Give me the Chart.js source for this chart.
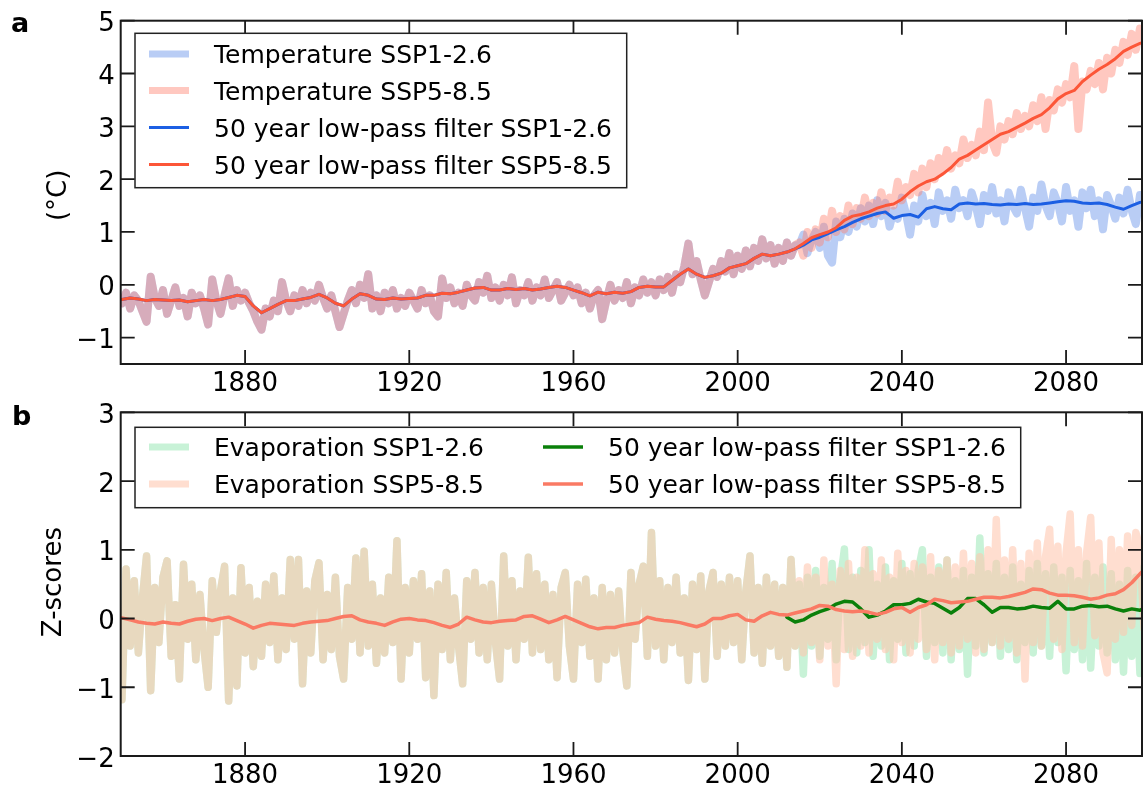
<!DOCTYPE html>
<html>
<head>
<meta charset="utf-8">
<script src="https://cdn.jsdelivr.net/npm/chart.js@4.4.1/dist/chart.umd.min.js"></script>
<style>
  html, body { margin: 0; padding: 0; background: #fff; }
  #wrap { position: relative; width: 1143px; height: 785px; overflow: hidden; }
  .panel { position: absolute; left: 0; width: 1143px; }
  #panelA { top: 0; height: 395px; }
  #panelB { top: 395px; height: 390px; }
</style>
</head>
<body>
<div id="wrap">
  <div class="panel" id="panelA"><canvas id="tempChart"></canvas></div>
  <div class="panel" id="panelB"><canvas id="evapChart"></canvas></div>
</div>
<script>
const FONT = "'DejaVu Sans', sans-serif";

// Panel a: temperature (°C), annual values. History 1850-2014 is shared by both scenarios.
const tempHist = [
  -0.35, -0.15, -0.45, -0.20, -0.30, -0.50, -0.70, 0.15, -0.25, -0.40,
  -0.10, -0.55, -0.30, -0.05, -0.40, -0.25, -0.60, -0.15, -0.35, -0.20,
  -0.45, -0.75, 0.10, -0.30, -0.55, -0.20, 0.12, -0.40, -0.10, -0.30,
  -0.15, -0.35, -0.50, -0.70, -0.85, -0.45, -0.60, -0.30, -0.50, 0.05,
  -0.30, -0.50, -0.20, -0.40, -0.10, -0.35, -0.15, -0.30, 0.00, -0.25,
  -0.45, -0.20, -0.50, -0.80, -0.55, -0.30, -0.10, -0.35, 0.00, -0.25,
  0.20, -0.45, -0.20, -0.50, -0.15, -0.35, -0.10, -0.45, -0.25, -0.40,
  -0.15, -0.30, -0.45, -0.10, -0.35, -0.20, -0.50, -0.60, 0.12, -0.25,
  -0.05, -0.35, -0.15, -0.40, 0.00, -0.20, -0.30, 0.05, -0.15, 0.17,
  -0.25, -0.05, -0.30, 0.00, -0.20, 0.14, -0.35, -0.10, -0.20, 0.05,
  -0.30, -0.05, -0.20, 0.10, -0.25, -0.10, 0.05, -0.30, -0.15, 0.00,
  -0.20, -0.05, -0.35, -0.15, -0.45, -0.20, -0.10, -0.65, -0.30, 0.00,
  -0.30, -0.10, -0.25, 0.05, -0.35, -0.05, -0.20, 0.10, -0.15, 0.05,
  -0.20, 0.10, -0.10, 0.15, -0.15, 0.20, 0.05, 0.35, 0.78, 0.20,
  0.45, 0.10, -0.20, 0.05, 0.30, 0.15, 0.45, 0.25, 0.60, 0.20,
  0.55, 0.30, 0.65, 0.35, 0.70, 0.45, 0.86, 0.50, 0.75, 0.40,
  0.70, 0.45, 0.80, 0.55, 0.75
];
// 2015-2100
const tempSsp126 = [
  0.75, 0.95, 0.60, 0.85, 1.00, 0.70, 1.10, 0.55, 0.42, 1.20,
  0.90, 1.25, 1.00, 1.35, 1.10, 1.45, 1.20, 1.50, 1.15, 1.60,
  1.30, 1.55, 1.10, 1.40, 1.25, 1.65, 1.35, 0.95, 1.50, 1.20,
  1.70, 1.30, 1.55, 1.15, 1.75, 1.40, 1.60, 1.25, 1.80, 1.45,
  1.60, 1.30, 1.75, 1.50, 1.15, 1.70, 1.40, 1.85, 1.35, 1.60,
  1.20, 1.75, 1.50, 1.35, 1.80, 1.45, 1.10, 1.65, 1.40, 1.90,
  1.50, 1.30, 1.75, 1.55, 1.20, 1.85, 1.40, 1.60, 1.10, 1.75,
  1.45, 1.80, 1.30, 1.60, 1.05, 1.70, 1.50, 1.25, 1.65, 1.35,
  1.80, 1.40, 1.15, 1.70, 1.50, 1.90
];
const tempSsp585 = [
  0.80, 0.55, 1.00, 0.70, 1.05, 0.80, 1.25, 0.90, 1.40, 1.00,
  1.30, 1.05, 1.50, 1.15, 1.45, 1.25, 1.65, 1.30, 1.55, 1.35,
  1.75, 1.40, 1.65, 1.50, 1.95, 1.60, 1.85, 1.70, 2.10, 1.75,
  2.20, 1.85, 2.30, 2.00, 2.40, 2.15, 2.55, 2.20, 2.45, 2.30,
  2.75, 2.40, 2.65, 2.45, 2.90, 2.55, 3.45, 2.70, 2.50, 3.00,
  2.75, 3.10, 2.85, 3.25, 2.95, 3.20, 3.00, 3.40, 3.10, 3.55,
  2.95, 3.50, 3.30, 3.70, 3.45, 3.80, 3.55, 4.14, 2.95, 3.85,
  3.70, 4.05, 3.80, 4.20, 3.70, 4.30, 4.00, 4.45, 4.20, 4.60,
  4.35, 4.75, 4.45, 4.85, 4.60, 4.90
];
// 50 year low-pass filter, every 2 years: 1850-2014, then 2016-2100
const tempFilterHist = [
  -0.28, -0.25, -0.27, -0.30, -0.28, -0.29, -0.30, -0.29, -0.32, -0.30,
  -0.28, -0.30, -0.28, -0.24, -0.20, -0.22, -0.40, -0.53, -0.45, -0.37,
  -0.30, -0.30, -0.27, -0.24, -0.18, -0.25, -0.35, -0.40, -0.27, -0.17,
  -0.20, -0.27, -0.28, -0.25, -0.27, -0.26, -0.25, -0.20, -0.20, -0.16,
  -0.17, -0.14, -0.10, -0.06, -0.05, -0.10, -0.10, -0.07, -0.09, -0.07,
  -0.10, -0.08, -0.05, -0.03, -0.05, -0.10, -0.15, -0.21, -0.14, -0.17,
  -0.14, -0.16, -0.13, -0.05, -0.03, -0.04, -0.04, 0.08, 0.20, 0.30,
  0.20, 0.14, 0.17, 0.22, 0.32, 0.36, 0.40, 0.50, 0.58, 0.55,
  0.58, 0.62, 0.68
];
const tempFilterSsp126 = [
  0.75, 0.85, 0.90, 0.97, 1.04, 1.10, 1.18, 1.25, 1.30, 1.35,
  1.38, 1.26, 1.31, 1.33, 1.28, 1.44, 1.48, 1.44, 1.42, 1.53,
  1.55, 1.53, 1.54, 1.52, 1.51, 1.53, 1.52, 1.54, 1.52, 1.53,
  1.55, 1.57, 1.59, 1.58, 1.55, 1.54, 1.55, 1.52, 1.47, 1.43,
  1.50, 1.56, 1.58
];
const tempFilterSsp585 = [
  0.78, 0.89, 0.95, 1.00, 1.08, 1.22, 1.30, 1.33, 1.38, 1.45,
  1.50, 1.53, 1.62, 1.76, 1.87, 1.95, 2.00, 2.10, 2.22, 2.38,
  2.45, 2.55, 2.65, 2.75, 2.85, 2.90, 2.98, 3.06, 3.15, 3.22,
  3.35, 3.52, 3.62, 3.68, 3.85, 3.97, 4.08, 4.17, 4.28, 4.42,
  4.50, 4.57, 4.62
];
const tempTicks = [-1, 0, 1, 2, 3, 4, 5];

// Panel b: evaporation z-scores, annual values
const evapHist = [
  -1.18, 0.72, -0.40, 0.55, -0.50, 0.30, 0.91, -1.05, 0.45, -0.35,
  0.60, 0.84, -0.55, 0.20, -0.88, 0.79, -0.30, 0.50, -0.60, 0.35,
  -0.45, -1.00, 0.55, -0.20, 0.40, 0.76, -1.20, 0.30, -0.98, 0.74,
  -0.50, 0.45, -0.70, 0.25, -0.55, 0.50, -0.35, 0.62, -0.60, 0.30,
  -0.45, 0.86, -0.30, 0.86, -0.95, 0.40, -0.50, 0.55, 0.81, -0.60,
  0.35, -0.45, 0.60, -0.55, -0.88, 0.45, -0.30, 0.88, -0.50, 0.98,
  -0.40, 0.50, -0.65, 0.30, -0.50, 0.60, -0.35, 1.13, -0.88, 0.45,
  -0.50, 0.55, -0.30, 0.65, -0.86, 0.40, -1.12, 0.50, -0.45, 0.67,
  -0.60, 0.30, -0.40, -0.95, 0.55, -0.30, 0.67, -0.50, 0.45, -0.60,
  0.50, -0.35, -0.88, 0.91, -0.40, 0.55, -0.60, 0.40, -0.30, 0.89,
  -0.50, 0.65, -0.45, 0.50, -0.60, 0.35, -0.86, 0.45, 0.67, -0.40,
  -0.88, 0.50, -0.35, 0.57, -0.55, 0.30, -0.88, 0.45, -0.60, 0.35,
  -0.50, 0.40, -0.45, -0.98, 0.67, -0.30, 0.50, 0.76, -0.55, 1.25,
  -0.40, 0.55, -0.60, 0.45, -0.35, 0.60, -0.50, 0.30, -0.90, 0.50,
  -0.45, 0.62, -0.88, 0.40, 0.67, -0.55, 0.50, -0.40, 0.60, -0.35,
  0.55, -0.60, 0.40, 0.91, -0.50, 0.45, -0.65, 0.60, -0.40, 0.50,
  -0.55, 0.45, -0.71, 0.86, -0.40
];
// 2015-2100
const evapSsp126 = [
  0.50, -0.81, 0.60, -0.40, 0.70, -0.55, 0.45, -0.30, 0.80, -0.60,
  0.55, 1.01, -0.45, 0.60, -0.50, 0.70, -0.35, 1.00, -0.55, 0.50,
  -0.40, 0.75, -0.60, 0.55, -0.30, 0.80, -0.50, 0.65, -0.40, 0.70,
  1.00, -0.55, 0.60, -0.35, 0.75, -0.50, 0.85, -0.60, 0.55, -0.45,
  0.70, -0.81, 0.60, -0.40, 1.17, -0.50, 0.65, -0.35, 0.80, -0.55,
  0.60, -0.45, 0.75, -0.60, 0.50, -0.35, 0.70, -0.50, 0.80, -0.40,
  0.65, -0.55, 0.75, -0.35, 0.60, -0.76, 0.70, -0.45, 0.55, -0.60,
  0.80, -0.72, 0.60, -0.40, 0.75, -0.50, 0.65, -0.60, 0.50, -0.78,
  0.70, -0.55, 0.60, -0.80, 0.75, -0.45
];
const evapSsp585 = [
  0.55, -0.50, 0.75, -0.35, 0.60, -0.60, 0.85, -0.40, 0.50, -0.95,
  0.70, -0.45, 0.80, -0.55, 0.60, -0.40, 1.00, -0.50, 0.65, -0.30,
  0.85, -0.45, 0.60, -0.60, 0.95, -0.35, 0.70, -0.50, 0.80, -0.30,
  0.75, -0.45, 0.90, -0.60, 0.70, -0.35, 0.85, -0.50, 0.75, -0.40,
  0.95, -0.30, 0.80, -0.50, 0.90, -0.45, 1.00, -0.35, 1.44, -0.40,
  0.85, -0.30, 1.00, -0.50, 0.80, -0.88, 0.95, -0.35, 1.10, -0.40,
  0.90, 1.30, -0.30, 1.05, -0.45, 0.95, 1.52, -0.35, 1.00, -0.40,
  0.95, 1.47, -0.25, 1.10, -0.50, -0.79, 1.15, -0.30, 1.00, -0.20,
  1.20, -0.10, 1.25, 1.03, -0.15, 1.30
];
// low-pass filters, every 2 years: history 1850-2014, SSP5-8.5 2016-2100, SSP1-2.6 2012-2100
const evapFilterHist = [
  0.01, -0.02, -0.05, -0.07, -0.08, -0.05, -0.07, -0.08, -0.04, -0.01,
  0.00, -0.03, 0.00, 0.02, -0.03, -0.08, -0.14, -0.10, -0.07, -0.08,
  -0.09, -0.10, -0.07, -0.05, -0.04, -0.03, 0.00, 0.03, 0.04, -0.02,
  -0.05, -0.07, -0.10, -0.05, -0.01, 0.00, -0.02, -0.03, -0.06, -0.10,
  -0.13, -0.08, 0.02, -0.02, -0.05, -0.06, -0.04, -0.03, -0.02, 0.03,
  0.04, -0.01, -0.06, -0.02, 0.03, -0.02, -0.07, -0.12, -0.15, -0.13,
  -0.13, -0.10, -0.08, -0.06, 0.02, -0.01, -0.03, -0.04, -0.06, -0.09,
  -0.12, -0.08, 0.00, 0.00, 0.04, 0.06, -0.02, -0.04, 0.04, 0.09,
  0.06, 0.05, 0.08
];
const evapFilterSsp585 = [
  0.11, 0.14, 0.19, 0.18, 0.13, 0.11, 0.10, 0.11, 0.09, 0.06,
  0.09, 0.14, 0.16, 0.09, 0.16, 0.20, 0.28, 0.26, 0.23, 0.24,
  0.25, 0.28, 0.31, 0.31, 0.30, 0.32, 0.35, 0.38, 0.43, 0.42,
  0.37, 0.34, 0.34, 0.33, 0.31, 0.28, 0.30, 0.34, 0.36, 0.42,
  0.52, 0.65, 0.76
];
const evapFilterSsp126 = [
  0.02, -0.05, -0.02, 0.05, 0.10, 0.14, 0.21, 0.25, 0.24, 0.14,
  0.02, 0.05, 0.11, 0.20, 0.20, 0.22, 0.28, 0.24, 0.22, 0.15,
  0.08, 0.16, 0.29, 0.29, 0.20, 0.09, 0.16, 0.16, 0.14, 0.15,
  0.18, 0.16, 0.15, 0.25, 0.14, 0.14, 0.18, 0.19, 0.17, 0.18,
  0.14, 0.11, 0.14, 0.12, 0.18
];
const evapTicks = [-2, -1, 0, 1, 2, 3];

const yearTicks = [1880, 1920, 1960, 2000, 2040, 2080];

// values -> {x: year, y: value}, starting at a year with a fixed step
const series = (values, start, step) => values.map((v, i) => ({ x: start + i * step, y: v }));
const fmt = v => (v < 0 ? '\u2212' + Math.abs(v) : String(v));

const TICK_LEN = 14;

// frame, inward ticks, tick labels, axis title, legend box and panel letter
const panelDecor = {
  id: 'panelDecor',
  afterDraw(chart, args, opts) {
    const { ctx, chartArea: a, scales: { x, y } } = chart;
    ctx.save();

    ctx.strokeStyle = '#1a1a1a';
    ctx.lineWidth = 1.8;
    ctx.beginPath();
    x.ticks.forEach(t => {
      const px = x.getPixelForValue(t.value);
      ctx.moveTo(px, a.bottom); ctx.lineTo(px, a.bottom - TICK_LEN);
      ctx.moveTo(px, a.top); ctx.lineTo(px, a.top + TICK_LEN);
    });
    y.ticks.forEach(t => {
      const py = y.getPixelForValue(t.value);
      ctx.moveTo(a.left, py); ctx.lineTo(a.left + TICK_LEN, py);
      ctx.moveTo(a.right, py); ctx.lineTo(a.right - TICK_LEN, py);
    });
    ctx.stroke();
    ctx.lineWidth = 2;
    ctx.strokeRect(a.left, a.top, a.right - a.left, a.bottom - a.top);

    // tick labels
    ctx.fillStyle = '#000';
    ctx.font = '26px ' + FONT;
    ctx.textBaseline = 'alphabetic';
    ctx.textAlign = 'center';
    x.ticks.forEach(t => {
      ctx.fillText(String(t.value), x.getPixelForValue(t.value), a.bottom + 26.5);
    });
    ctx.textAlign = 'right';
    y.ticks.forEach(t => {
      ctx.fillText(fmt(t.value), a.left - 6, y.getPixelForValue(t.value) + 10.5);
    });

    // y axis title
    ctx.save();
    ctx.translate(opts.title[1], (a.top + a.bottom) / 2 + opts.title[2]);
    ctx.rotate(-Math.PI / 2);
    ctx.textAlign = 'center';
    ctx.textBaseline = 'middle';
    ctx.font = '26px ' + FONT;
    ctx.fillText(opts.title[0], 0, 0);
    ctx.restore();

    // legend box
    const lg = opts.legend;
    ctx.textAlign = 'left';
    ctx.fillStyle = '#fff';
    ctx.fillRect(lg.box[0], lg.box[1], lg.box[2] - lg.box[0], lg.box[3] - lg.box[1]);
    ctx.strokeStyle = '#222';
    ctx.lineWidth = 1.5;
    ctx.strokeRect(lg.box[0], lg.box[1], lg.box[2] - lg.box[0], lg.box[3] - lg.box[1]);
    ctx.font = '25px ' + FONT;
    lg.items.forEach(it => {
      const ds = chart.data.datasets[it.ds];
      ctx.strokeStyle = ds.borderColor;
      ctx.lineWidth = it.w;
      ctx.lineCap = 'butt';
      ctx.beginPath();
      ctx.moveTo(it.x, it.y);
      ctx.lineTo(it.x + 40, it.y);
      ctx.stroke();
      ctx.fillStyle = '#000';
      ctx.fillText(ds.label, it.x + 65, it.y + 9);
    });

    // panel letter
    ctx.font = 'bold 27px ' + FONT;
    ctx.fillStyle = '#000';
    ctx.fillText(opts.letter[0], opts.letter[1], opts.letter[2]);
    ctx.restore();
  }
};

function panelChart(canvasId, cfg) {
  return new Chart(document.getElementById(canvasId), {
    type: 'line',
    data: { datasets: cfg.datasets },
    options: {
      responsive: true,
      maintainAspectRatio: false,
      animation: false,
      events: [],
      layout: { padding: { top: cfg.top, right: 1, bottom: 0, left: 0 } },
      elements: {
        point: { radius: 0 },
        line: { tension: 0, borderCapStyle: 'round', borderJoinStyle: 'round' }
      },
      scales: {
        x: {
          type: 'linear',
          min: 1849.7,
          max: 2098.5,
          afterBuildTicks: s => { s.ticks = yearTicks.map(v => ({ value: v })); },
          afterFit: s => { s.height = cfg.xHeight; },
          grid: { display: false, drawTicks: false },
          border: { display: false },
          ticks: { display: false }
        },
        y: {
          min: cfg.yMin,
          max: cfg.yMax,
          afterBuildTicks: s => { s.ticks = cfg.yTicks.map(v => ({ value: v })); },
          afterFit: s => { s.width = 120.7; },
          grid: { display: false, drawTicks: false },
          border: { display: false },
          ticks: { display: false }
        }
      },
      plugins: {
        legend: { display: false },
        tooltip: { enabled: false },
        panelDecor: { legend: cfg.legend, letter: cfg.letter, title: cfg.title }
      }
    },
    plugins: [panelDecor]
  });
}

panelChart('tempChart', {
  top: 20.7, xHeight: 31, yMin: -1.5, yMax: 5, yTicks: tempTicks,
  title: ['(°C)', 59, 3], letter: ['a', 11, 32],
  datasets: [
    { label: 'Temperature SSP1-2.6', data: series(tempHist.concat(tempSsp126), 1850, 1),
      borderColor: 'rgba(55,112,226,0.35)', borderWidth: 8, order: 4 },
    { label: 'Temperature SSP5-8.5', data: series(tempHist.concat(tempSsp585), 1850, 1),
      borderColor: 'rgba(255,127,108,0.43)', borderWidth: 8, order: 3 },
    { label: '50 year low-pass filter SSP1-2.6',
      data: series(tempFilterHist, 1850, 2).concat(series(tempFilterSsp126, 2016, 2)),
      borderColor: '#1c5fe3', borderWidth: 3, order: 2 },
    { label: '50 year low-pass filter SSP5-8.5',
      data: series(tempFilterHist, 1850, 2).concat(series(tempFilterSsp585, 2016, 2)),
      borderColor: '#fc5638', borderWidth: 3, order: 1 }
  ],
  legend: {
    box: [135, 33.3, 626.7, 187.7],
    items: [
      { ds: 0, x: 149, y: 54, w: 7 },
      { ds: 1, x: 149, y: 90.5, w: 7 },
      { ds: 2, x: 149, y: 127.5, w: 3 },
      { ds: 3, x: 149, y: 164.5, w: 3 }
    ]
  }
});

panelChart('evapChart', {
  top: 17.3, xHeight: 29, yMin: -2, yMax: 3, yTicks: evapTicks,
  title: ['Z-scores', 54, -2], letter: ['b', 12, 30],
  datasets: [
    { label: 'Evaporation SSP1-2.6', data: series(evapHist.concat(evapSsp126), 1850, 1),
      borderColor: 'rgba(72,212,122,0.3)', borderWidth: 7.5, order: 4 },
    { label: 'Evaporation SSP5-8.5', data: series(evapHist.concat(evapSsp585), 1850, 1),
      borderColor: 'rgba(255,198,174,0.58)', borderWidth: 7.5, order: 3 },
    { label: '50 year low-pass filter SSP1-2.6', data: series(evapFilterSsp126, 2012, 2),
      borderColor: '#0a800a', borderWidth: 3.5, order: 2 },
    { label: '50 year low-pass filter SSP5-8.5',
      data: series(evapFilterHist, 1850, 2).concat(series(evapFilterSsp585, 2016, 2)),
      borderColor: '#fa7a64', borderWidth: 3.5, order: 1 }
  ],
  legend: {
    box: [135, 32.3, 1020.7, 112.7],
    items: [
      { ds: 0, x: 149, y: 52, w: 7 },
      { ds: 1, x: 149, y: 89, w: 7 },
      { ds: 2, x: 543, y: 52, w: 3.5 },
      { ds: 3, x: 543, y: 89, w: 3.5 }
    ]
  }
});
</script>
</body>
</html>
